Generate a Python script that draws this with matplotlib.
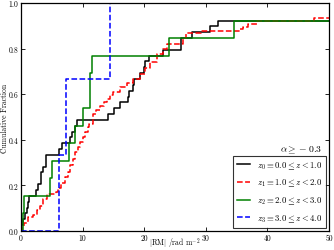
import matplotlib
matplotlib.use("Agg")
import matplotlib.pyplot as plt

plt.rcParams['font.family'] = 'serif'
plt.rcParams['font.serif'] = ['cmr10', 'DejaVu Serif']
plt.rcParams['mathtext.fontset'] = 'cm'
plt.rcParams['axes.unicode_minus'] = False

# step positions (|RM|) and cumulative fractions
z0_rm = [0, 0.05, 0.37, 0.65, 0.9, 1.2, 1.35, 2.4, 2.8, 3.2, 3.6, 4.0, 6.2, 6.7,
         7.95, 8.3, 8.8, 9.1, 14.2, 15.1, 16.1, 17.3, 17.6, 18.1, 18.4, 19.3,
         19.9, 20.2, 20.8, 23.1, 25.9, 27.7, 30.7, 31.9, 50]
z0_count = [0, 1, 2, 3, 4, 5, 6, 7, 8, 10, 11, 13, 14, 15, 16, 17, 18, 19, 20,
            21, 22, 23, 24, 25, 26, 27, 28, 29, 30, 31, 33, 34, 35, 36, 36]
z0_n = 39

z1_rm = [0, 0.2, 0.5, 1.2, 2.0, 2.6, 3.1, 3.6, 4.2, 5.6, 6.0, 6.5, 7.1, 7.6, 8.0,
         8.4, 8.8, 9.2, 9.6, 10.0, 10.4, 10.8, 11.1, 11.7, 12.2, 12.8, 13.4,
         13.9, 14.5, 15.0, 16.1, 17.2, 18.2, 19.3, 20.1, 20.9, 22.0, 23.1, 23.7,
         26.3, 26.8, 29.3, 35.6, 36.1, 36.9, 38.3, 47.5, 50]
z1_frac = [0, 0.02, 0.035, 0.06, 0.07, 0.09, 0.11, 0.14, 0.16, 0.17, 0.19, 0.21,
           0.235, 0.26, 0.29, 0.315, 0.345, 0.37, 0.39, 0.41, 0.435, 0.455,
           0.47, 0.513, 0.53, 0.55, 0.565, 0.58, 0.595, 0.61, 0.63, 0.65, 0.667,
           0.69, 0.713, 0.74, 0.776, 0.80, 0.822, 0.845, 0.867, 0.876, 0.885,
           0.893, 0.908, 0.92, 0.933, 0.933]

z2_rm = [0, 0.3, 0.45, 4.7, 5.1, 7.8, 8.7, 10.0, 11.2, 11.5, 24.0, 34.5, 50]
z2_count = [0, 1, 2, 3, 4, 5, 6, 7, 9, 10, 11, 12, 12]
z2_n = 13

z3_rm = [0, 6.2, 7.3, 14.4, 50]
z3_count = [0, 1, 2, 3, 3]
z3_n = 3

labels = [r'$z_0 \equiv 0.0 \leq z < 1.0$', r'$z_1 \equiv 1.0 \leq z < 2.0$',
          r'$z_2 \equiv 2.0 \leq z < 3.0$', r'$z_3 \equiv 3.0 \leq z < 4.0$']

fig = plt.figure(figsize=(3.34, 2.51), dpi=100)
ax = fig.add_axes([0.063, 0.076, 0.922, 0.908])

ax.plot(z0_rm, [c / z0_n for c in z0_count], drawstyle='steps-post',
        color='k', lw=1.1, label=labels[0])
ax.plot(z1_rm, z1_frac, drawstyle='steps-post', color='r', ls='--',
        lw=1.1, label=labels[1])
ax.plot(z2_rm, [c / z2_n for c in z2_count], drawstyle='steps-post',
        color='g', lw=1.1, label=labels[2])
ax.plot(z3_rm, [c / z3_n for c in z3_count], drawstyle='steps-post',
        color='b', ls='--', lw=1.1, label=labels[3])

ax.set_xlim(0, 50)
ax.set_ylim(0, 1)
ax.set_xticks([0, 10, 20, 30, 40, 50])
ax.set_yticks([0, 0.2, 0.4, 0.6, 0.8, 1.0])
ax.set_yticklabels(['0.0', '0.2', '0.4', '0.6', '0.8', '1.0'])
ax.tick_params(direction='in', top=True, right=True, labelsize=5.5,
               length=3, width=0.6, pad=2)
for s in ax.spines.values():
    s.set_linewidth(0.9)

ax.set_xlabel(r'$|\mathrm{RM}|\ /\mathrm{rad\ m^{-2}}$', fontsize=5.5,
              va='bottom')
ax.xaxis.set_label_coords(0.5, -0.083)
ax.set_ylabel('Cumulative Fraction', fontsize=5.5)
ax.yaxis.set_label_coords(-0.040, 0.5)
ax.text(45.5, 0.36, r'$\alpha \geq -0.3$', fontsize=7, ha='center', va='center')

leg = ax.legend(loc='lower right', fontsize=6.3, fancybox=False,
                handlelength=1.5, borderaxespad=0.35, labelspacing=0.75,
                borderpad=0.45)
leg.get_frame().set_edgecolor('k')
leg.get_frame().set_linewidth(0.8)

fig.savefig('out.png', dpi=100)
